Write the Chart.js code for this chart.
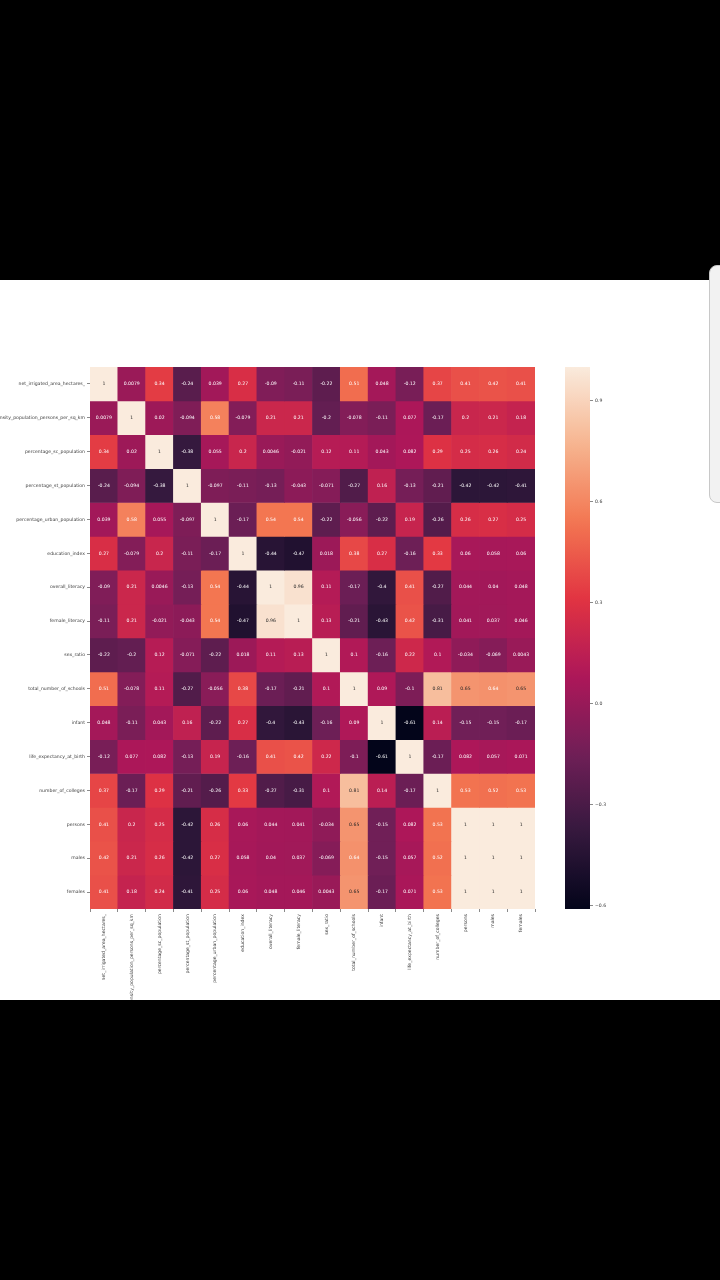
<!DOCTYPE html>
<html>
<head>
<meta charset="utf-8">
<script src="https://cdn.jsdelivr.net/npm/chart.js@4/dist/chart.umd.min.js"></script>
<style>
  html, body { margin: 0; padding: 0; background: #fff; width: 720px; height: 1280px; overflow: hidden; }
  #topbar { position: absolute; left: 0; top: 0; width: 720px; height: 280px; background: #000; z-index: 5; }
  #botbar { position: absolute; left: 0; top: 1000px; width: 720px; height: 280px; background: #000; z-index: 5; }
  #handle { position: absolute; left: 709px; top: 265px; width: 20px; height: 236px; background: #f2f2f2; border: 1px solid #c8c8c8; border-radius: 8px; z-index: 6; }
  #heat { position: absolute; left: 0; top: 280px; }
  #cbar { position: absolute; left: 555px; top: 280px; }
</style>
</head>
<body>
<div id="topbar"></div>
<div id="botbar"></div>
<div id="handle"></div>
<canvas id="heat" width="560" height="720"></canvas>
<canvas id="cbar" width="110" height="720"></canvas>
<script>
// ---- labels ----
const labels = [
  "net_irrigated_area_hectares_",
  "density_population_persons_per_sq_km",
  "percentage_sc_population",
  "percentage_st_population",
  "percentage_urban_population",
  "education_index",
  "overall_literacy",
  "female_literacy",
  "sex_ratio",
  "total_number_of_schools",
  "infant",
  "life_expectancy_at_birth",
  "number_of_colleges",
  "persons",
  "males",
  "females"
];

// ---- correlation rows ----
const netIrrigated   = [1, 0.0079, 0.34, -0.24, 0.039, 0.27, -0.09, -0.11, -0.22, 0.51, 0.048, -0.12, 0.37, 0.41, 0.42, 0.41];
const density        = [0.0079, 1, 0.02, -0.094, 0.58, -0.079, 0.21, 0.21, -0.2, -0.078, -0.11, 0.077, -0.17, 0.2, 0.21, 0.18];
const scPop          = [0.34, 0.02, 1, -0.38, 0.055, 0.2, 0.0046, -0.021, 0.12, 0.11, 0.043, 0.082, 0.29, 0.25, 0.26, 0.24];
const stPop          = [-0.24, -0.094, -0.38, 1, -0.097, -0.11, -0.13, -0.043, -0.071, -0.27, 0.16, -0.13, -0.21, -0.42, -0.42, -0.41];
const urbanPop       = [0.039, 0.58, 0.055, -0.097, 1, -0.17, 0.54, 0.54, -0.22, -0.056, -0.22, 0.19, -0.26, 0.26, 0.27, 0.25];
const educationIndex = [0.27, -0.079, 0.2, -0.11, -0.17, 1, -0.44, -0.47, 0.018, 0.38, 0.27, -0.16, 0.33, 0.06, 0.058, 0.06];
const overallLit     = [-0.09, 0.21, 0.0046, -0.13, 0.54, -0.44, 1, 0.96, 0.11, -0.17, -0.4, 0.41, -0.27, 0.044, 0.04, 0.048];
const femaleLit      = [-0.11, 0.21, -0.021, -0.043, 0.54, -0.47, 0.96, 1, 0.13, -0.21, -0.43, 0.42, -0.31, 0.041, 0.037, 0.046];
const sexRatio       = [-0.22, -0.2, 0.12, -0.071, -0.22, 0.018, 0.11, 0.13, 1, 0.1, -0.16, 0.22, 0.1, -0.034, -0.069, 0.0043];
const schools        = [0.51, -0.078, 0.11, -0.27, -0.056, 0.38, -0.17, -0.21, 0.1, 1, 0.09, -0.1, 0.81, 0.65, 0.64, 0.65];
const infant         = [0.048, -0.11, 0.043, 0.16, -0.22, 0.27, -0.4, -0.43, -0.16, 0.09, 1, -0.61, 0.14, -0.15, -0.15, -0.17];
const lifeExp        = [-0.12, 0.077, 0.082, -0.13, 0.19, -0.16, 0.41, 0.42, 0.22, -0.1, -0.61, 1, -0.17, 0.082, 0.057, 0.071];
const colleges       = [0.37, -0.17, 0.29, -0.21, -0.26, 0.33, -0.27, -0.31, 0.1, 0.81, 0.14, -0.17, 1, 0.53, 0.52, 0.53];
const persons        = [0.41, 0.2, 0.25, -0.42, 0.26, 0.06, 0.044, 0.041, -0.034, 0.65, -0.15, 0.082, 0.53, 1, 1, 1];
const males          = [0.42, 0.21, 0.26, -0.42, 0.27, 0.058, 0.04, 0.037, -0.069, 0.64, -0.15, 0.057, 0.52, 1, 1, 1];
const females        = [0.41, 0.18, 0.24, -0.41, 0.25, 0.06, 0.048, 0.046, 0.0043, 0.65, -0.17, 0.071, 0.53, 1, 1, 1];

const rows = [netIrrigated, density, scPop, stPop, urbanPop, educationIndex, overallLit, femaleLit,
              sexRatio, schools, infant, lifeExp, colleges, persons, males, females];

// ---- colour bar ticks ----
const cbarTicks = [-0.6, -0.3, 0.0, 0.3, 0.6, 0.9];
const vmin = -0.61, vmax = 1;

// ---- rocket colormap ----
const rocket = [
  [0.0,   [3, 5, 26]],
  [0.143, [53, 25, 62]],
  [0.286, [112, 31, 87]],
  [0.429, [173, 23, 89]],
  [0.571, [225, 51, 66]],
  [0.714, [243, 118, 81]],
  [0.857, [246, 180, 143]],
  [1.0,   [250, 235, 221]]
];
function rocketRGB(t) {
  t = Math.max(0, Math.min(1, t));
  for (let i = 1; i < rocket.length; i++) {
    if (t <= rocket[i][0]) {
      const [t0, c0] = rocket[i - 1], [t1, c1] = rocket[i];
      const f = (t - t0) / (t1 - t0);
      return c0.map((c, k) => Math.round(c + (c1[k] - c) * f));
    }
  }
  return rocket[rocket.length - 1][1];
}
function colorOf(v) {
  const c = rocketRGB((v - vmin) / (vmax - vmin));
  return `rgb(${c[0]},${c[1]},${c[2]})`;
}
function textColorOf(v) {
  const c = rocketRGB((v - vmin) / (vmax - vmin)).map(x => {
    x /= 255; return x <= 0.03928 ? x / 12.92 : Math.pow((x + 0.055) / 1.055, 2.4);
  });
  const lum = 0.2126 * c[0] + 0.7152 * c[1] + 0.0722 * c[2];
  return lum > 0.408 ? '#262626' : '#ffffff';
}
function fmt(v) { return Number(v.toPrecision(2)).toString(); }

const FONT = "'DejaVu Sans', sans-serif";
const tickColor = '#3a3a3a';

// annotation plugin
const annotate = {
  id: 'annotate',
  afterDatasetsDraw(chart) {
    const ctx = chart.ctx;
    ctx.save();
    ctx.font = `4.6px ${FONT}`;
    ctx.textAlign = 'center';
    ctx.textBaseline = 'middle';
    chart.data.datasets.forEach((ds, r) => {
      const meta = chart.getDatasetMeta(r);
      meta.data.forEach((el, c) => {
        const v = rows[r][c];
        ctx.fillStyle = textColorOf(v);
        ctx.fillText(fmt(v), el.x, (el.y + el.base) / 2);
      });
    });
    ctx.restore();
  }
};

new Chart(document.getElementById('heat'), {
  type: 'bar',
  data: {
    labels: labels,
    datasets: rows.map((row, r) => ({
      label: labels[r],
      data: row.map(() => [r, r + 1]),
      backgroundColor: row.map(v => colorOf(v)),
      borderWidth: 0,
      barPercentage: 1,
      categoryPercentage: 1,
      grouped: false
    }))
  },
  options: {
    responsive: false,
    devicePixelRatio: 1,
    animation: false,
    layout: { padding: { top: 87, right: 25, left: 0, bottom: 0 } },
    plugins: { legend: { display: false }, tooltip: { enabled: false } },
    scales: {
      x: {
        type: 'category',
        grid: { drawOnChartArea: false, tickLength: 3, color: tickColor, lineWidth: 0.6 },
        border: { display: false },
        ticks: { autoSkip: false, maxRotation: 90, minRotation: 90, padding: 2, color: tickColor,
                 font: { size: 4.6, family: FONT } },
        afterFit(scale) { scale.height = 91; }
      },
      y: {
        type: 'linear',
        min: 0, max: 16, reverse: true,
        grid: { drawOnChartArea: false, tickLength: 3, color: tickColor, lineWidth: 0.6 },
        border: { display: false },
        afterBuildTicks(scale) { scale.ticks = labels.map((_, i) => ({ value: i + 0.5 })); },
        ticks: { autoSkip: false, padding: 2, color: tickColor, font: { size: 4.6, family: FONT },
                 callback: (v, i) => labels[i] },
        afterFit(scale) { scale.width = 90; }
      }
    }
  },
  plugins: [annotate]
});

new Chart(document.getElementById('cbar'), {
  type: 'bar',
  data: {
    labels: ['colorbar'],
    datasets: [{
      data: [[vmin, vmax]],
      borderWidth: 0,
      barPercentage: 1,
      categoryPercentage: 1,
      backgroundColor(ctx) {
        const chart = ctx.chart; const a = chart.chartArea;
        if (!a) return '#888';
        const g = chart.ctx.createLinearGradient(0, a.bottom, 0, a.top);
        for (let i = 0; i <= 40; i++) {
          const t = i / 40; const c = rocketRGB(t);
          g.addColorStop(t, `rgb(${c[0]},${c[1]},${c[2]})`);
        }
        return g;
      }
    }]
  },
  options: {
    responsive: false,
    devicePixelRatio: 1,
    animation: false,
    layout: { padding: { top: 87, left: 10, right: 0, bottom: 91 } },
    plugins: { legend: { display: false }, tooltip: { enabled: false } },
    scales: {
      x: { display: false },
      y: {
        position: 'right',
        min: vmin, max: vmax,
        grid: { drawOnChartArea: false, tickLength: 3, color: tickColor, lineWidth: 0.6 },
        border: { display: false },
        afterBuildTicks(scale) { scale.ticks = cbarTicks.map(v => ({ value: v })); },
        ticks: { padding: 2, color: tickColor, font: { size: 4.6, family: FONT },
                 callback: (v, i) => (cbarTicks[i] < 0 ? '\u2212' : '') + Math.abs(cbarTicks[i]).toFixed(1) },
        afterFit(scale) { scale.width = 75; }
      }
    }
  }
});
</script>
</body>
</html>
